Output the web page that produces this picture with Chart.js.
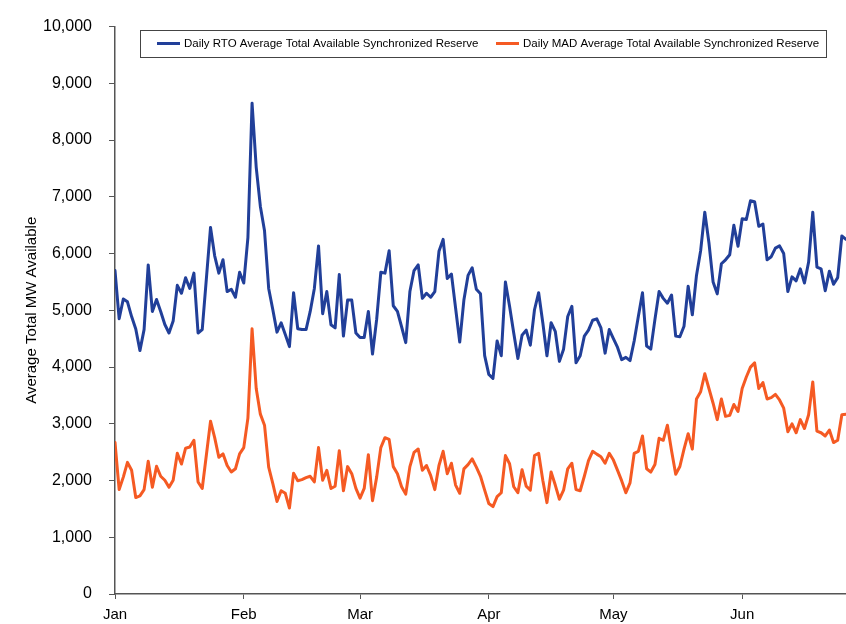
<!DOCTYPE html>
<html>
<head>
<meta charset="utf-8">
<script src="https://cdn.jsdelivr.net/npm/chart.js@4.4.0/dist/chart.umd.min.js"></script>
<style>
  html, body { margin: 0; padding: 0; background: #fff; }
  #wrap { width: 846px; height: 624px; }
</style>
</head>
<body>
<div id="wrap"><canvas id="chart" width="846" height="624"></canvas></div>
<script>
// month tick labels and the day index where each month starts
const monthNames = ['Jan', 'Feb', 'Mar', 'Apr', 'May', 'Jun'];
const monthStarts = [0, 31, 59, 90, 120, 151];

// Daily RTO Average Total Available Synchronized Reserve (MW), Jan 1 onward
const rtoValues = [
  5700, 4850, 5200, 5150, 4890, 4670, 4290, 4660, 5800, 4980,
  5190, 4980, 4750, 4600, 4810, 5440, 5300, 5575, 5385, 5655,
  4600, 4660, 5560, 6460, 5960, 5655, 5890, 5330, 5370, 5230,
  5670, 5480, 6280, 8650, 7520, 6830, 6400, 5385, 5010, 4615,
  4780, 4575, 4360, 5310, 4675, 4660, 4660, 4980, 5385, 6135,
  4940, 5330, 4745, 4690, 5630, 4545, 5180, 5180, 4600, 4520,
  4520, 4980, 4230, 4840, 5670, 5655, 6050, 5080, 4980, 4710,
  4430, 5330, 5700, 5800, 5210, 5300, 5230, 5330, 6040, 6250,
  5560, 5640, 5040, 4440, 5180, 5615, 5750, 5370, 5290, 4200,
  3870, 3800, 4460, 4200, 5500, 5070, 4600, 4150, 4560, 4650,
  4385, 5010, 5310, 4780, 4200, 4780, 4630, 4100, 4315, 4890,
  5070, 4075, 4200, 4545, 4650, 4825, 4850, 4690, 4245, 4660,
  4500, 4345, 4130, 4170, 4113, 4460, 4890, 5310, 4370, 4315,
  4840, 5330, 5210, 5125, 5270, 4545, 4535, 4720, 5425, 4920,
  5615, 6050, 6730, 6190, 5500, 5290, 5820, 5890, 5980, 6500,
  6130, 6615, 6600, 6930, 6915, 6480, 6520, 5890, 5945, 6095,
  6135, 6000, 5330, 5590, 5520, 5730, 5480, 5850, 6730, 5760,
  5730, 5345, 5690, 5460, 5575, 6310, 6250
];

// Daily MAD Average Total Available Synchronized Reserve (MW)
const madValues = [
  2670, 1840, 2060, 2320, 2180, 1700, 1730, 1840, 2340, 1880,
  2250, 2075, 2005, 1880, 2005, 2480, 2290, 2570, 2590, 2710,
  1975, 1860, 2450, 3045, 2755, 2410, 2470, 2265, 2150, 2207,
  2470, 2580, 3100, 4675, 3620, 3170, 2975, 2235, 1945, 1630,
  1820, 1775, 1515, 2130, 1995, 2015, 2050, 2075, 1975, 2580,
  2005, 2180, 1860, 1900, 2525, 1820, 2245, 2120, 1860, 1690,
  1860, 2455, 1645, 2060, 2580, 2755, 2725, 2245, 2120, 1890,
  1760, 2245, 2495, 2555, 2180, 2265, 2090, 1840, 2265, 2515,
  2120, 2305, 1920, 1775, 2205, 2280, 2380, 2235, 2075, 1830,
  1595, 1540, 1715, 1785, 2440, 2295, 1890, 1785, 2190, 1900,
  1830, 2440, 2480, 2005, 1610, 2150, 1920, 1670, 1830, 2205,
  2305, 1840, 1820, 2075, 2350, 2515, 2465, 2420, 2305, 2480,
  2360, 2178, 1993, 1785, 1958, 2478, 2513, 2785, 2207, 2149,
  2282, 2744, 2709, 2975, 2525, 2109, 2247, 2553, 2825, 2553,
  3437, 3565, 3882, 3622, 3362, 3073, 3437, 3131, 3148, 3340,
  3218, 3622, 3825, 3998, 4073, 3622, 3726, 3437, 3460, 3518,
  3420, 3275, 2860, 2998, 2842, 3073, 2917, 3160, 3738, 2871,
  2842, 2785, 2889, 2669, 2709, 3160, 3170
];

const dayIndex = rtoValues.map((_, i) => i);

const FONT = '"Liberation Sans", Arial, sans-serif';
const BLUE = '#213f99';
const ORANGE = '#f55a23';

// legend drawn inside the plot area, like the original
const insideLegend = {
  id: 'insideLegend',
  afterDraw(chart) {
    const ctx = chart.ctx;
    ctx.save();
    ctx.strokeStyle = '#444';
    ctx.lineWidth = 1;
    ctx.strokeRect(140.5, 30.5, 686, 27);
    ctx.font = '11.5px ' + FONT;
    ctx.fillStyle = '#000';
    ctx.textBaseline = 'middle';
    const spots = [157, 496];
    chart.data.datasets.forEach((ds, i) => {
      const x = spots[i];
      ctx.strokeStyle = ds.borderColor;
      ctx.lineWidth = 3;
      ctx.beginPath();
      ctx.moveTo(x, 43.5);
      ctx.lineTo(x + 23, 43.5);
      ctx.stroke();
      ctx.fillText(ds.label, x + 27, 44);
    });
    ctx.restore();
  }
};

new Chart(document.getElementById('chart'), {
  type: 'line',
  data: {
    labels: dayIndex,
    datasets: [
      {
        label: 'Daily RTO Average Total Available Synchronized Reserve',
        data: rtoValues,
        borderColor: BLUE,
        borderWidth: 3,
        borderJoinStyle: 'round',
        borderCapStyle: 'round',
        pointRadius: 0,
        tension: 0
      },
      {
        label: 'Daily MAD Average Total Available Synchronized Reserve',
        data: madValues,
        borderColor: ORANGE,
        borderWidth: 3,
        borderJoinStyle: 'round',
        borderCapStyle: 'round',
        pointRadius: 0,
        tension: 0
      }
    ]
  },
  options: {
    responsive: false,
    animation: false,
    layout: { padding: { top: 17, right: 0, bottom: 0, left: 0 } },
    plugins: {
      legend: { display: false },
      tooltip: { enabled: false }
    },
    scales: {
      x: {
        type: 'linear',
        min: 0,
        max: rtoValues.length - 1,
        afterBuildTicks(scale) {
          scale.ticks = monthStarts.map(v => ({ value: v }));
        },
        afterFit(scale) { scale.height = 30; },
        ticks: {
          autoSkip: false,
          maxRotation: 0,
          padding: 7,
          color: '#000',
          font: { family: FONT, size: 15 },
          callback(value) {
            const i = monthStarts.indexOf(value);
            return i >= 0 ? monthNames[i] : '';
          }
        },
        grid: {
          drawOnChartArea: false,
          drawTicks: true,
          tickLength: 5,
          color: '#555'
        },
        border: { display: true, color: '#555', width: 1.5 }
      },
      y: {
        min: 0,
        max: 10000,
        afterFit(scale) { scale.width = 115; },
        ticks: {
          stepSize: 1000,
          padding: 17,
          color: '#000',
          font: { family: FONT, size: 16 },
          callback(value) { return value.toLocaleString('en-US'); }
        },
        grid: {
          drawOnChartArea: false,
          drawTicks: true,
          tickLength: 6,
          color: '#555'
        },
        border: { display: true, color: '#555', width: 1.5 },
        title: {
          display: true,
          text: 'Average Total MW Available',
          color: '#000',
          font: { family: FONT, size: 15 },
          padding: { top: 23, bottom: 0 }
        }
      }
    }
  },
  plugins: [insideLegend]
});
</script>
</body>
</html>
